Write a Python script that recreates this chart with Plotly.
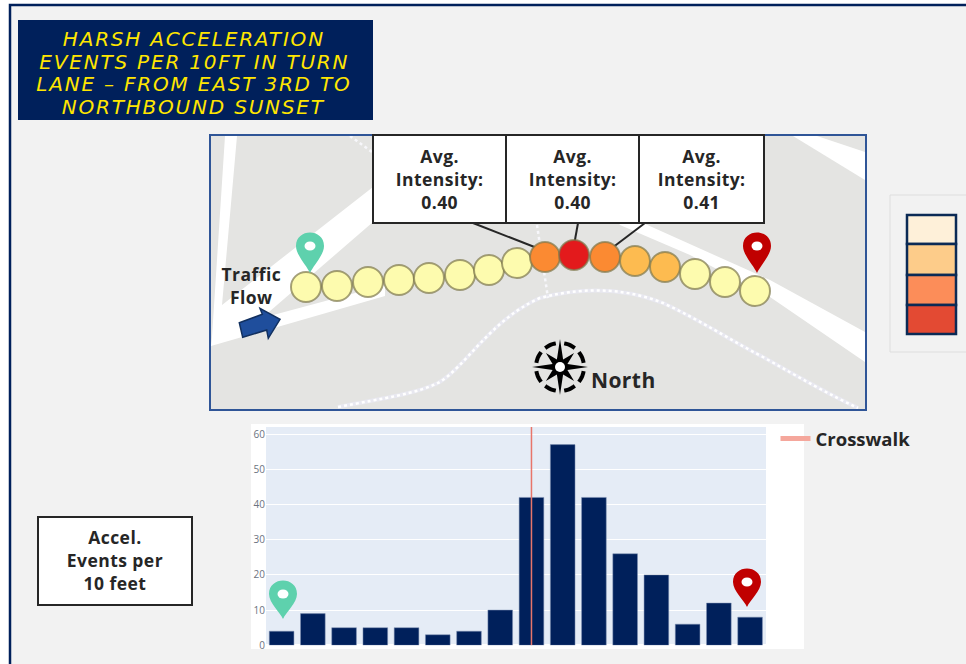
import numpy as np
import plotly.graph_objects as go

# Bar chart data
segments = list(range(16))
accel_events = [4, 9, 5, 5, 5, 3, 4, 10, 42, 57, 42, 26, 20, 6, 12, 8]
crosswalk_segment = 8
y_ticks = [0, 10, 20, 30, 40, 50, 60]

# Map data, one circle per segment (picture pixels)
route_x = [306, 337, 368, 399, 429, 460, 489, 517, 545, 574, 605, 635, 665, 695, 725, 755]
route_y = [287, 286, 282, 280, 278, 275, 270, 263, 257, 255, 257, 261, 267, 274, 282, 291]
route_level = [0, 0, 0, 0, 0, 0, 0, 0, 2, 3, 2, 1, 1, 0, 0, 0]
level_colors = ["#fdfbae", "#fdbb50", "#fb8a32", "#e31a1c"]

legend_colors = ["#fef0d9", "#fdcc8a", "#fc8d59", "#e34a33"]
intensity_labels = ["0.40", "0.40", "0.41"]
title_lines = [
    "HARSH ACCELERATION",
    "EVENTS PER 10FT IN TURN",
    "LANE \u2013 FROM EAST 3RD TO",
    "NORTHBOUND SUNSET",
]

NAVY = "#00205b"
TEXT = "#262626"
W, H = 966, 664

shapes = []
annotations = []


def box(x0, y0, x1, y1, fill, line=None, width=2, layer="below"):
    shapes.append(dict(type="rect", xref="x", yref="y", x0=x0, y0=y0, x1=x1, y1=y1,
                       fillcolor=fill, line=dict(color=line or fill, width=width if line else 0),
                       layer=layer))


def poly(points, fill, line=None, width=0, layer="below"):
    path = "M " + " L ".join(f"{px:.1f},{py:.1f}" for px, py in points) + " Z"
    shapes.append(dict(type="path", xref="x", yref="y", path=path, fillcolor=fill,
                       line=dict(color=line or fill, width=width), layer=layer))


def stroke(path, color, width, dash="solid", layer="below"):
    shapes.append(dict(type="path", xref="x", yref="y", path=path,
                       line=dict(color=color, width=width, dash=dash), layer=layer))


def label(x, y, text, size=17.5, color=TEXT, bold=True, family="Open Sans", italic=False):
    annotations.append(dict(xref="x", yref="y", x=x, y=y, text=text, showarrow=False,
                            xanchor="center", yanchor="middle", align="center",
                            font=dict(family=family, size=size, color=color,
                                      weight=700 if bold else 400,
                                      style="italic" if italic else "normal")))


def pin(cx, head_y, tip_y, color):
    r = 14
    path = (f"M {cx},{tip_y} C {cx-3},{tip_y-7} {cx-r},{head_y+9} {cx-r},{head_y} "
            f"C {cx-r},{head_y-18} {cx+r},{head_y-18} {cx+r},{head_y} "
            f"C {cx+r},{head_y+9} {cx+3},{tip_y-7} {cx},{tip_y} Z")
    shapes.append(dict(type="path", xref="x", yref="y", path=path, fillcolor=color,
                       line=dict(color=color, width=0), layer="above"))
    shapes.append(dict(type="circle", xref="x", yref="y", x0=cx-5.5, x1=cx+5.5,
                       y0=head_y-4.5, y1=head_y+4.5, fillcolor="white",
                       line=dict(width=0), layer="above"))


# Page and frame
box(10, 5, 980, 680, "#f2f2f2", line=NAVY, width=2.5)

# Title
box(18, 20, 373, 120, NAVY)
for i, line in enumerate(title_lines):
    label(194, 39 + i * 22.6, line, size=20, color="#ffe600", bold=False,
          family="DejaVu Sans", italic=True)

# Map background and roads
box(210, 135, 866, 410, "#e4e4e2")
poly([(225, 136), (237, 136), (222, 305), (373, 187), (373, 222), (262, 318),
      (385, 285), (385, 296), (211, 346), (212, 337)], "white")
poly([(643, 223), (606, 205), (620, 225), (690, 255), (770, 297), (865, 362), (865, 332), (770, 280)], "white")
poly([(793, 136), (817, 136), (865, 152), (865, 180)], "white")
walkway = ("M 338,407 C 385,398 415,394 438,383 C 465,368 490,320 540,298 "
           "C 590,285 630,290 663,303 C 700,320 730,340 763,357 C 800,378 830,395 858,408")
stroke(walkway, "#e8e8f0", 4)
stroke(walkway, "white", 2.5, dash="dot")
stroke("M 350,136 L 372,152", "#f7f7fb", 2.5, dash="dot")
stroke("M 537,225 L 548,298", "#f7f7fb", 2.5, dash="dot")
box(210, 135, 866, 410, "rgba(0,0,0,0)", line="#2f5597", width=2)

# Connector lines from the callouts to their circles
stroke("M 473,223 L 537,248", "#262626", 2, layer="between")
stroke("M 578,223 L 573,251", "#262626", 2, layer="between")
stroke("M 645,223 L 612,248", "#262626", 2, layer="between")

# Callouts
callout_edges = [(373, 506), (506, 639), (639, 764)]
for (x0, x1), value in zip(callout_edges, intensity_labels):
    box(x0, 135, x1, 223, "white", line="#262626", width=2, layer="above")
    label((x0 + x1) / 2, 179, f"Avg.<br>Intensity:<br>{value}")

# Traffic flow note
label(251, 285.5, "Traffic<br>Flow")
poly([(239.3, 322.7), (262.3, 314.3), (260, 308.3), (280, 319.3), (268.3, 338.3),
      (266.7, 330), (242.7, 337.3)], "#1f4e9c", line="#12305f", width=1.5)

# Compass
cx, cy = 560, 367
star = []
for k in range(16):
    ang = k * np.pi / 8
    rad = [28, 8, 20, 8][k % 4]
    star.append((cx + rad * np.sin(ang), cy - rad * np.cos(ang)))
poly(star, "black")
shapes.append(dict(type="circle", xref="x", yref="y", x0=cx-5, x1=cx+5, y0=cy-5, y1=cy+5,
                   fillcolor="white", line=dict(width=0)))
for start in [0, 90, 180, 270]:
    for a0, a1 in [(start + 10, start + 38), (start + 52, start + 80)]:
        angs = np.radians(np.linspace(a0, a1, 8))
        arc = [f"{cx + 24 * np.sin(a):.1f},{cy - 24 * np.cos(a):.1f}" for a in angs]
        stroke("M " + " L ".join(arc), "black", 4)
label(623, 380, "North", size=21)

# Intensity legend
box(890, 195, 980, 352, "#f2f2f2", line="#dedede", width=1)
legend_edges = [(215, 244), (244, 275), (275, 305), (305, 334)]
for (y0, y1), color in zip(legend_edges, legend_colors):
    box(907, y0, 956, y1, color, line="#0b2a55", width=2.5)

# Chart card
box(251, 424, 804, 649, "white")
box(266, 427, 766, 646, "#e5ecf6")

# Y label box
box(38, 517, 192, 605, "white", line="#262626", width=2)
label(115, 560, "Accel.<br>Events per<br>10 feet")

# Start and end pins
pin(310, 246, 273, "#5ed1ad")
pin(757, 246, 273, "#c00000")
pin(283, 594, 619, "#5ed1ad")
pin(747, 582, 607, "#c00000")

fig = go.Figure()

# Circles along the turn lane
fig.add_trace(go.Scatter(
    x=route_x, y=route_y, mode="markers", xaxis="x", yaxis="y", showlegend=False,
    marker=dict(size=30, color=[level_colors[v] for v in route_level],
                line=dict(color="rgba(125,120,75,0.7)", width=2)),
))

# Bars
fig.add_trace(go.Bar(
    x=segments, y=accel_events, xaxis="x2", yaxis="y2", showlegend=False,
    marker=dict(color=NAVY, line=dict(color="#7f90b3", width=0.5)), width=0.79,
))

# Crosswalk line in the chart, with a thicker sample in the legend
fig.add_trace(go.Scatter(
    x=[crosswalk_segment, crosswalk_segment], y=[0, 62], mode="lines", xaxis="x2", yaxis="y2",
    showlegend=False, line=dict(color="#e8756a", width=1.5),
))
fig.add_trace(go.Scatter(
    x=[None], y=[None], mode="lines", xaxis="x2", yaxis="y2",
    name="Crosswalk", line=dict(color="#f5a79c", width=5),
))

fig.update_layout(
    width=W,
    height=H,
    margin=dict(l=0, r=0, t=0, b=0, autoexpand=False),
    paper_bgcolor="white",
    plot_bgcolor="rgba(0,0,0,0)",
    shapes=shapes,
    annotations=annotations,
    bargap=0.2,
    xaxis=dict(domain=[0, 1], range=[0, W], visible=False, fixedrange=True),
    yaxis=dict(domain=[0, 1], range=[H, 0], visible=False, fixedrange=True),
    xaxis2=dict(domain=[266 / W, 765.7 / W], range=[-0.5, 15.5], anchor="y2",
                showticklabels=False, showgrid=False, zeroline=False, ticks=""),
    yaxis2=dict(domain=[(H - 645.3) / H, (H - 427) / H], range=[0, 62], anchor="x2",
                tickvals=y_ticks, gridcolor="white", gridwidth=1, zeroline=True,
                zerolinecolor="white", zerolinewidth=2, showline=False, ticks="",
                tickfont=dict(family="Open Sans", size=10, color="#6b7380")),
    legend=dict(x=775.5 / W, y=(H - 420) / H, xanchor="left", yanchor="top",
                bgcolor="rgba(0,0,0,0)",
                font=dict(family="Open Sans", size=18.5, color=TEXT, weight=700)),
    showlegend=True,
)

# Page margin off, and wider tracking for the annotation text
post = """
document.body.style.margin='0';
document.body.style.overflow='hidden';
document.querySelectorAll('.annotation-text').forEach(function(t){
  var title = t.style.fontFamily.indexOf('DejaVu')>=0;
  t.style.letterSpacing = title ? '1.8px' : '0.45px';
});
"""
fig.write_html("out.html", config=dict(displayModeBar=False), post_script=post)
